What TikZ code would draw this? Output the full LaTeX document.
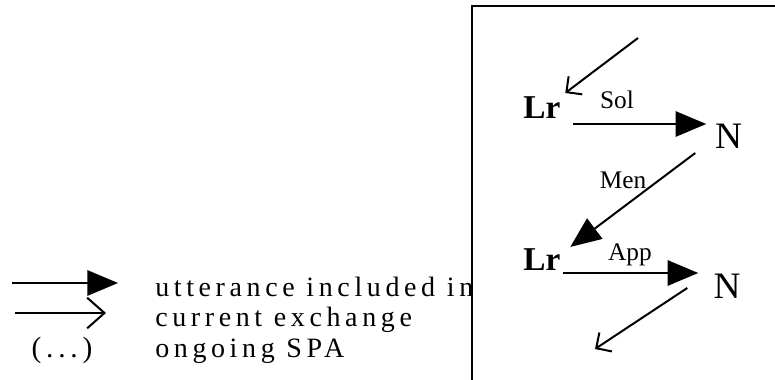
\documentclass[tikz,border=0pt]{standalone}
\usepackage{fontspec}
\setmainfont{Liberation Serif}
\newfontfamily\diagfont{Liberation Serif}
\newfontfamily\legfont{Liberation Serif}[LetterSpace=16.5]
\usetikzlibrary{arrows.meta,calc}
\tikzset{
  lbl/.style={inner sep=0pt, anchor=base},
  lrnode/.style={lbl, font=\diagfont\bfseries\fontsize{25pt}{28pt}\selectfont},
  nnode/.style={lbl, font=\diagfont\fontsize{28pt}{32pt}\selectfont},
  small/.style={lbl, font=\diagfont\fontsize{19pt}{22pt}\selectfont},
  legtext/.style={inner sep=0pt, anchor=base west, font=\legfont\fontsize{21pt}{24pt}\selectfont},
  conn/.style={line width=1.5pt},
  filledarrow/.style={conn, -{Triangle[length=23pt, width=19pt]}},
  openarrow/.style={conn, -{Straight Barb[length=8.5pt, width=17pt]}},
  legopen/.style={conn, -{Straight Barb[length=13pt, width=23pt]}},
  frame/.style={line width=1.5pt, fill=white}
}
\begin{document}
\begin{tikzpicture}[x=0.75pt, y=-0.75pt]
\useasboundingbox (0,0) rectangle (775,379);
\fill[white] (0,0) rectangle (775,379);

% legend
\coordinate (la1) at (12,283);
\coordinate (lb1) at (118,283);
\coordinate (la2) at (15,313);
\coordinate (lb2) at (106,313);
\draw[filledarrow] (la1) -- (lb1);
\draw[legopen] (la2) -- (lb2);
\node[inner sep=0pt, anchor=base, font=\legfont\fontsize{22pt}{24pt}\selectfont] (dots) at (62,357) {(...)};
\node[legtext] (t1) at (155,296) {utterance included in};
\node[legtext] (t2) at (155,326) {current exchange};
\node[legtext] (t3) at (155,357) {ongoing SPA};

% frame
\begin{scope}
\clip (0,0) rectangle (775,379);
\filldraw[frame] (472,6) rectangle (800,400);
\end{scope}

% diagram nodes
\node[lrnode] (Lr1) at (542,118) {Lr};
\node[nnode] (N1) at (728.5,148) {N};
\node[lrnode] (Lr2) at (542,270) {Lr};
\node[nnode] (N2) at (727,298) {N};

\node[small] (sol) at (617,108) {Sol};
\node[small] (men) at (623,188) {Men};
\node[small] (app) at (630,260) {App};

% connectors
\coordinate (topstart) at (638,38);
\coordinate (botend) at (595,349);
\draw[openarrow] (topstart) -- ($(Lr1.base east)+(4.5,-25)$);
\draw[filledarrow] ($(Lr1.base east)+(12.5,6)$) -- ($(N1.base west)+(-8.5,-24)$);
\draw[filledarrow] ($(N1.base west)+(-19.5,5)$) -- ($(Lr2.base east)+(9.5,-23)$);
\draw[filledarrow] ($(Lr2.base east)+(2.5,3)$) -- ($(N2.base west)+(-15,-25)$);
\draw[openarrow] ($(N2.base west)+(-26,-10)$) -- (botend);
\end{tikzpicture}
\end{document}
